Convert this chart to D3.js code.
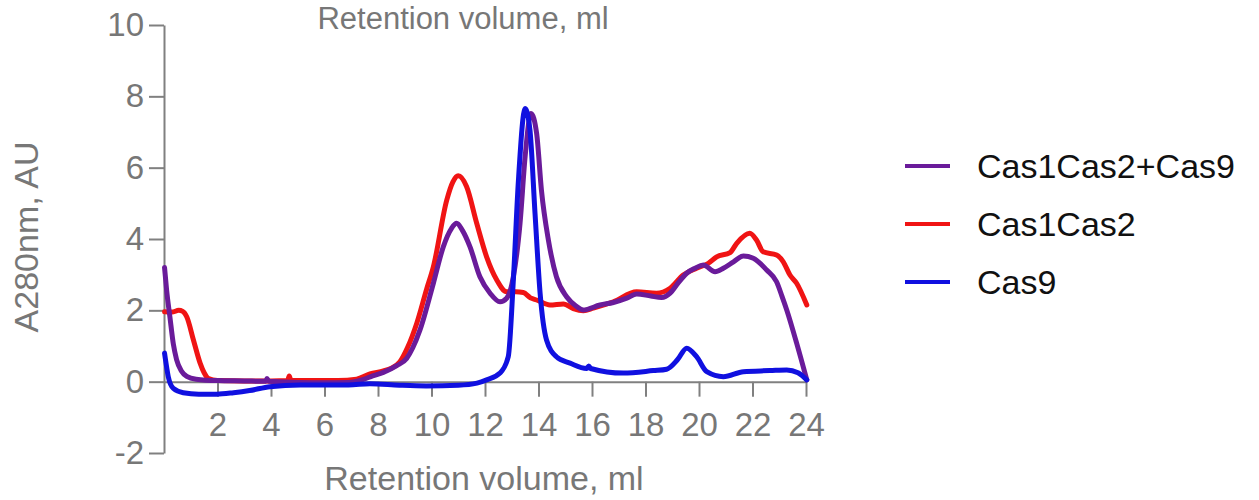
<!DOCTYPE html>
<html>
<head>
<meta charset="utf-8">
<script src="https://cdn.jsdelivr.net/npm/d3@7"></script>
<style>
  body { margin: 0; background: #fff; }
  svg { display: block; font-family: "Liberation Sans", Arial, sans-serif; }
</style>
</head>
<body>
<svg id="chart"></svg>
<script>
// [retention volume (ml), A280 (AU)]
var cas1cas2cas9 = [
  [0.02, 3.2], [0.1, 2.55], [0.22, 1.82], [0.35, 1.05], [0.47, 0.62], [0.65, 0.3],
  [0.85, 0.15], [1.2, 0.07], [2.0, 0.03], [3.0, 0.02], [3.8, 0.01], [3.85, 0.09],
  [3.92, 0.01], [5.0, -0.02], [6.0, -0.03], [6.9, -0.02], [7.4, 0.05], [7.8, 0.16],
  [8.2, 0.26], [8.7, 0.45], [9.07, 0.65], [9.3, 0.95], [9.57, 1.45], [10.07, 2.76],
  [10.44, 3.78], [10.75, 4.3], [10.94, 4.44], [11.15, 4.25], [11.44, 3.78], [11.81, 2.94],
  [12.19, 2.48], [12.56, 2.24], [12.81, 2.34], [13.06, 2.94], [13.31, 4.44], [13.5, 6.31],
  [13.72, 7.52], [13.93, 6.96], [14.11, 5.37], [14.37, 3.97], [14.67, 2.94], [15.05, 2.38],
  [15.4, 2.12], [15.67, 2.01], [16.3, 2.15], [16.8, 2.22], [17.3, 2.34], [17.67, 2.46],
  [18.2, 2.4], [18.6, 2.36], [18.92, 2.48], [19.2, 2.75], [19.54, 3.04], [19.85, 3.18],
  [20.16, 3.27], [20.6, 3.08], [20.91, 3.18], [21.29, 3.36], [21.66, 3.52], [22.03, 3.46],
  [22.53, 3.13], [22.9, 2.8], [23.1, 2.4], [23.28, 2.01], [23.65, 1.08], [24.03, 0.05]
];
var cas1cas2 = [
  [0.02, 1.96], [0.3, 1.95], [0.55, 2.0], [0.7, 1.97], [0.85, 1.82], [1.1, 1.17],
  [1.35, 0.52], [1.5, 0.25], [1.66, 0.09], [2.0, 0.03], [3.0, 0.02], [4.0, 0.02],
  [4.62, 0.03], [4.68, 0.16], [4.75, 0.03], [5.5, 0.03], [6.5, 0.03], [7.2, 0.07],
  [7.7, 0.22], [8.2, 0.3], [8.5, 0.38], [8.82, 0.56], [9.1, 0.95], [9.45, 1.64],
  [9.82, 2.6], [10.07, 3.22], [10.57, 5.09], [10.8, 5.6], [11.0, 5.77], [11.31, 5.47],
  [11.69, 4.44], [12.06, 3.5], [12.44, 2.85], [12.81, 2.52], [13.15, 2.52], [13.43, 2.5],
  [13.7, 2.35], [13.93, 2.29], [14.43, 2.15], [14.93, 2.18], [15.3, 2.05], [15.68, 1.99],
  [16.05, 2.06], [16.8, 2.24], [17.67, 2.52], [18.41, 2.48], [18.92, 2.62], [19.41, 2.99],
  [19.91, 3.18], [20.35, 3.32], [20.66, 3.5], [21.16, 3.62], [21.41, 3.88], [21.9, 4.16],
  [22.15, 3.97], [22.4, 3.64], [22.9, 3.55], [23.15, 3.36], [23.4, 2.99], [23.65, 2.76],
  [24.03, 2.15]
];
var cas9 = [
  [0.02, 0.8], [0.1, 0.4], [0.16, 0.14], [0.35, -0.19], [0.72, -0.31], [1.3, -0.35],
  [1.97, -0.35], [2.6, -0.31], [3.2, -0.25], [3.96, -0.14], [5.1, -0.09], [6.0, -0.09],
  [6.9, -0.09], [7.7, -0.06], [8.8, -0.1], [9.8, -0.12], [11.0, -0.1], [11.7, -0.04],
  [12.06, 0.05], [12.56, 0.24], [12.87, 0.7], [13.06, 2.85], [13.25, 5.65], [13.5, 7.66],
  [13.68, 7.06], [13.87, 4.72], [14.06, 2.48], [14.3, 1.17], [14.67, 0.7], [15.18, 0.52],
  [15.8, 0.37], [15.88, 0.44], [15.95, 0.37], [17.17, 0.24], [18.29, 0.31], [18.79, 0.35],
  [19.2, 0.62], [19.54, 0.94], [19.91, 0.7], [20.29, 0.28], [20.91, 0.14], [21.66, 0.28],
  [22.65, 0.31], [23.28, 0.33], [23.7, 0.25], [24.03, 0.05]
];

var seriesNames = ["Cas1Cas2+Cas9", "Cas1Cas2", "Cas9"];
var seriesColors = ["#6a1b9a", "#f01414", "#1010e0"];
var xTicks = [2, 4, 6, 8, 10, 12, 14, 16, 18, 20, 22, 24];
var yTicks = [-2, 0, 2, 4, 6, 8, 10];
var xTitle = "Retention volume, ml";
var yTitle = "A280nm, AU";

var width = 1259, height = 500;
var svg = d3.select("#chart").attr("width", width).attr("height", height);

var x = d3.scaleLinear().domain([0, 24]).range([164, 806]);
var y = d3.scaleLinear().domain([-2, 10]).range([453, 25]);

var axisGray = "#808080";
var textGray = "#777777";
var plainFormat = (d) => String(d); // plain hyphen for -2, like the original

// y axis
var yAxis = svg.append("g")
  .attr("transform", `translate(${x(0)},0)`)
  .call(d3.axisLeft(y).tickValues(yTicks).tickFormat(plainFormat)
    .tickSize(15).tickSizeOuter(0).tickPadding(5));

// x axis sits on the zero line
var xAxis = svg.append("g")
  .attr("transform", `translate(0,${y(0)})`)
  .call(d3.axisBottom(x).tickValues(xTicks).tickFormat(plainFormat)
    .tickSize(15).tickSizeOuter(0).tickPadding(16));

[xAxis, yAxis].forEach(function (g) {
  g.select(".domain").attr("stroke", axisGray).attr("stroke-width", 2);
  g.selectAll(".tick line").attr("stroke", axisGray).attr("stroke-width", 2);
  g.selectAll(".tick text")
    .attr("fill", textGray)
    .style("font-size", "33px")
    .style("font-family", "'Liberation Sans', Arial, sans-serif");
});

// titles
svg.append("text")
  .attr("x", 463).attr("y", 29)
  .attr("text-anchor", "middle")
  .attr("fill", textGray)
  .style("font-size", "31px")
  .text(xTitle);

svg.append("text")
  .attr("x", 484).attr("y", 490)
  .attr("text-anchor", "middle")
  .attr("fill", textGray)
  .style("font-size", "34px")
  .text(xTitle);

svg.append("text")
  .attr("transform", "translate(38,237) rotate(-90)")
  .attr("text-anchor", "middle")
  .attr("fill", textGray)
  .style("font-size", "34px")
  .text(yTitle);

// traces
var line = d3.line()
  .x((d) => x(d[0]))
  .y((d) => y(d[1]))
  .curve(d3.curveMonotoneX);

var traces = [cas1cas2, cas1cas2cas9, cas9];
var traceColors = [seriesColors[1], seriesColors[0], seriesColors[2]];

svg.append("g")
  .selectAll("path")
  .data(traces)
  .join("path")
  .attr("d", (d) => line(d))
  .attr("fill", "none")
  .attr("stroke", (d, i) => traceColors[i])
  .attr("stroke-width", 5)
  .attr("stroke-linejoin", "round")
  .attr("stroke-linecap", "round");

// legend
var legend = svg.append("g").attr("transform", "translate(905,166)");
var rows = legend.selectAll("g")
  .data(seriesNames)
  .join("g")
  .attr("transform", (d, i) => `translate(0,${i * 58})`);

rows.append("line")
  .attr("x1", 0).attr("x2", 45)
  .attr("stroke", (d, i) => seriesColors[i])
  .attr("stroke-width", 4);

rows.append("text")
  .attr("x", 72)
  .attr("dy", "0.35em")
  .attr("fill", "#111")
  .style("font-size", "34px")
  .text((d) => d);
</script>
</body>
</html>
